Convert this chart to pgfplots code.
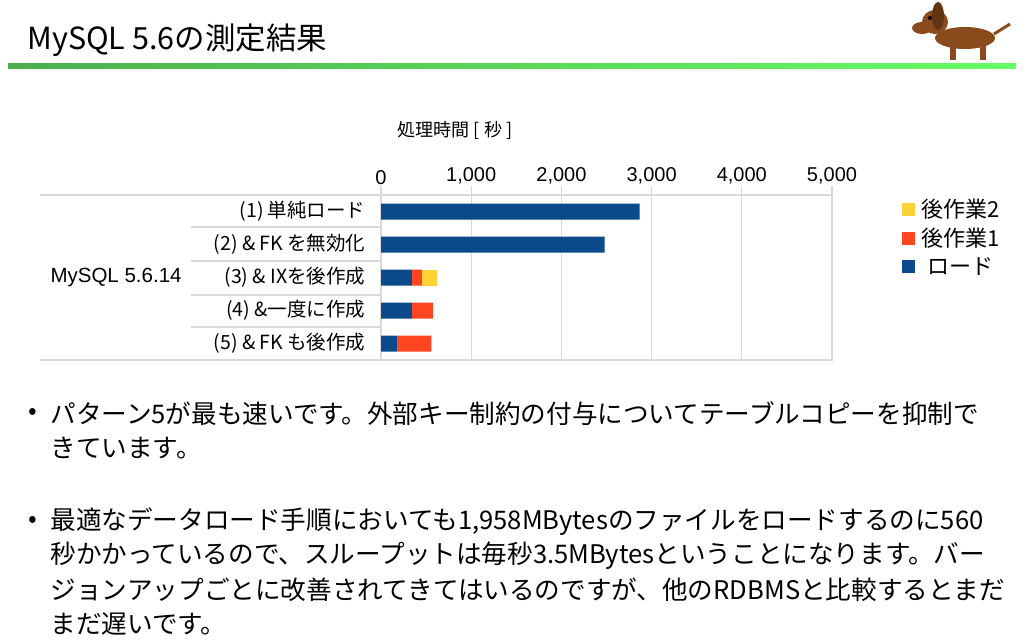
\documentclass[border=0pt]{standalone}
\usepackage{pgfplots}
\pgfplotsset{compat=1.18}
\usepackage{fontspec}
\setmainfont{Noto Sans CJK JP}
\newfontfamily\lat{Liberation Sans}
\definecolor{cLoad}{HTML}{0B4A8A}
\definecolor{cW1}{HTML}{FF4422}
\definecolor{cW2}{HTML}{FFD336}
\definecolor{gridc}{HTML}{D9D9D9}
\definecolor{dog}{HTML}{8B4A1C}
\begin{document}
\begin{tikzpicture}[x=1pt,y=-1pt]
\path[fill=white] (0,0) rectangle (1024,644);
% title
\node[anchor=west,font=\fontsize{30.5}{33}\selectfont] at (24,40) {MySQL 5.6の測定結果};
\shade[left color=green!55!black!70!white, right color=green!60!white] (8,64) rectangle (1016,69);
% crude dog
\fill[dog] (965,38) ellipse (30 and 11);
\fill[dog] (935,22) ellipse (13 and 12);
\fill[dog] (922,28) ellipse (10 and 6);
\fill[dog!70!black] (938,16) ellipse (6 and 14);
\fill[dog] (950,45) rectangle (956,60);
\fill[dog] (980,45) rectangle (986,60);
\draw[dog,line width=3pt] (994,34) -- (1010,24);
\fill[black] (930,18) circle (2);
% separators
\draw[gridc,line width=1.2pt] (40,195) -- (381,195);
\draw[gridc,line width=1.2pt] (40,360) -- (381,360);
\foreach \yy in {227,261,295,327} \draw[gridc,line width=1.2pt] (191,\yy) -- (381,\yy);
\node[anchor=west,font=\lat\fontsize{20.5}{24}\selectfont] at (47,277) {MySQL 5.6.14};
\foreach \yy/\t in {211/{(1) 単純ロード},244/{(2) \& FK を無効化},277/{(3) \& IXを後作成},310/{(4) \&一度に作成},343/{(5) \& FK も後作成}}
  \node[anchor=east,font=\fontsize{19.5}{22}\selectfont] at (369,\yy) {\t};
\node[font=\fontsize{18}{20}\selectfont] at (455,130) {処理時間 [ 秒 ]};
\begin{axis}[at={(381pt,-360pt)}, anchor=south west, scale only axis,
  width=451pt, height=165pt, xbar stacked, bar width=16pt,
  xmin=0, xmax=5000, ymin=-0.5, ymax=4.5, y dir=reverse,
  xtick={0,1000,2000,3000,4000,5000}, xticklabel pos=upper, xtick pos=upper,
  ytick=\empty, xmajorgrids, grid style={gridc,line width=1.2pt},
  axis line style={gridc,line width=1.2pt},
  tick align=outside, major tick length=9pt, x tick style={gridc,line width=1.2pt},
  /pgf/number format/.cd, 1000 sep={,}, assume math mode=true, /pgfplots/.cd,
  xticklabel style={font=\lat\fontsize{20}{22}\selectfont, yshift=-2pt},
  legend style={at={(rel axis cs:1.155,1.0)}, anchor=north west, draw=none,
    font=\fontsize{22}{25}\selectfont, row sep=5pt, inner xsep=0pt},
  legend image code/.code={\fill[#1] (0pt,-6.5pt) rectangle (13pt,6.5pt);},
  reverse legend]
\addplot[fill=cLoad,draw=none] coordinates {(2867,0) (2478,1) (341,2) (341,3) (181,4)};
\addplot[fill=cW1,draw=none] coordinates {(0,0) (0,1) (111,2) (237,3) (378,4)};
\addplot[fill=cW2,draw=none] coordinates {(0,0) (0,1) (167,2) (0,3) (0,4)};
\legend{\hspace{4pt}ロード,\hspace{4pt}後作業1,\hspace{4pt}後作業2}
\end{axis}
% bullets
\begin{scope}[font=\fontsize{25.6}{29}\selectfont]
\node at (33,414) {•};
\node[anchor=west] at (47,414) {パターン5が最も速いです。外部キー制約の付与についてテーブルコピーを抑制で};
\node[anchor=west] at (47,448) {きています。};
\node at (33,522) {•};
\node[anchor=west] at (47,522) {最適なデータロード手順においても1,958MBytesのファイルをロードするのに560};
\node[anchor=west] at (47,556) {秒かかっているので、スループットは毎秒3.5MBytesということになります。バー};
\node[anchor=west] at (47,590) {ジョンアップごとに改善されてきてはいるのですが、他のRDBMSと比較するとまだ};
\node[anchor=west] at (47,624) {まだ遅いです。};
\end{scope}
\end{tikzpicture}
\end{document}
